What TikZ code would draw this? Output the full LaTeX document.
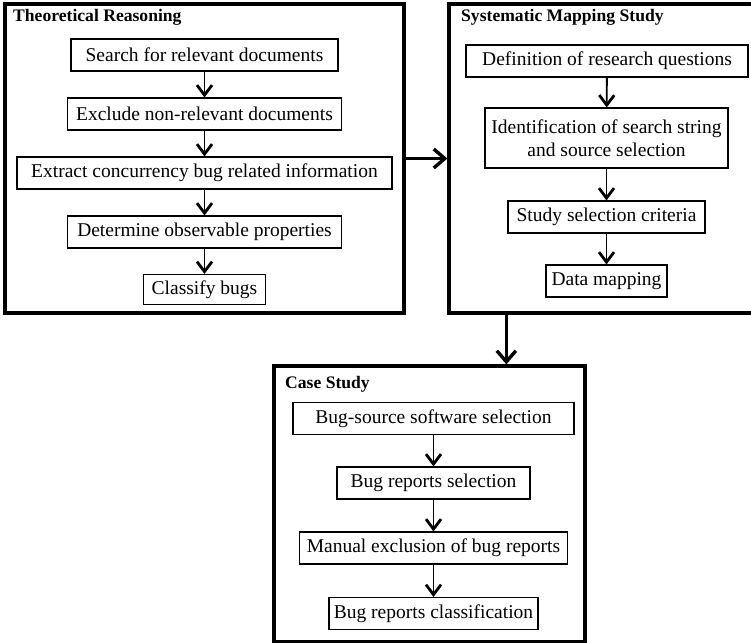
\documentclass[tikz,border=0pt]{standalone}
\usepackage{fontspec}
\setmainfont{Liberation Serif}
\usetikzlibrary{
    calc,
    arrows.meta
}
\tikzset{
    frame/.style={draw, line width=3.3pt, inner sep=0pt},
    heading/.style={anchor=base west, inner sep=0pt, font=\bfseries\fontsize{17.6}{20}\selectfont},
    stepbox/.style={draw, line width=1.1pt, minimum height=32pt, inner sep=1pt, align=center,
        font=\fontsize{19.5}{23}\selectfont},
    flow/.style={line width=1.8pt, -{Straight Barb[length=10pt,width=15pt,line width=2.8pt]}},
    bigflow/.style={line width=3.4pt, -{Straight Barb[length=11pt,width=19pt,line width=3.4pt]}}
}

\begin{document}
\begin{tikzpicture}[x=1pt,y=-1pt]
\useasboundingbox (0,0) rectangle (751,642);

% the three stages
\node[frame, minimum width=399pt, minimum height=309pt] (theory) at (204.5,158.5) {};
\node[frame, minimum width=312pt, minimum height=309pt] (sms) at (605,158.5) {};
\node[frame, minimum width=311pt, minimum height=276pt] (casest) at (429.5,504) {};

\node[heading] (theoryT) at (13,22) {Theoretical Reasoning};
\node[heading] (smsT) at (461,22) {Systematic Mapping Study};
\node[heading] (casestT) at (285,388) {Case Study};

%% theoretical reasoning
\node[stepbox, minimum width=267pt] (search) at (204.5,55) {Search for relevant documents};
\node[stepbox, minimum width=274pt] (exclude) at (204.5,114) {Exclude non-relevant documents};
\node[stepbox, minimum width=375pt] (extract) at (204.5,173) {Extract concurrency bug related information};
\node[stepbox, minimum width=274pt] (determine) at (204.5,232) {Determine observable properties};
\node[stepbox, minimum width=122pt, minimum height=30pt] (classify) at (204.5,289.5) {Classify bugs};

\draw[flow] (search) -- (exclude);
\draw[flow] (exclude) -- (extract);
\draw[flow] (extract) -- (determine);
\draw[flow] (determine) -- (classify);

%% systematic mapping study
\node[stepbox, minimum width=282pt] (defrq) at (607,61) {Definition of research questions};
\node[stepbox, minimum width=243pt, minimum height=60pt] (ident) at (606.5,138) {Identification of search string\\and source selection};
\node[stepbox, minimum width=197pt] (studysel) at (606.5,217) {Study selection criteria};
\node[stepbox, minimum width=121pt] (datamap) at (606.5,281) {Data mapping};

\draw[flow] (defrq) -- (ident);
\draw[flow] (ident) -- (studysel);
\draw[flow] (studysel) -- (datamap);

%% case study
\node[stepbox, minimum width=281pt] (bugsrc) at (433.5,418.5) {Bug-source software selection};
\node[stepbox, minimum width=193pt] (bugsel) at (433.5,483) {Bug reports selection};
\node[stepbox, minimum width=268pt] (manual) at (433.5,548) {Manual exclusion of bug reports};
\node[stepbox, minimum width=209pt] (bugclass) at (433.5,613.5) {Bug reports classification};

\draw[flow] (bugsrc) -- (bugsel);
\draw[flow] (bugsel) -- (manual);
\draw[flow] (manual) -- (bugclass);

% between the stages
\draw[bigflow] (theory.east) -- (sms.west);
\coordinate (smsout) at ($(sms.south west)+(59,0)$);
\draw[bigflow] (smsout) -- (smsout |- casest.north);
\end{tikzpicture}
\end{document}
